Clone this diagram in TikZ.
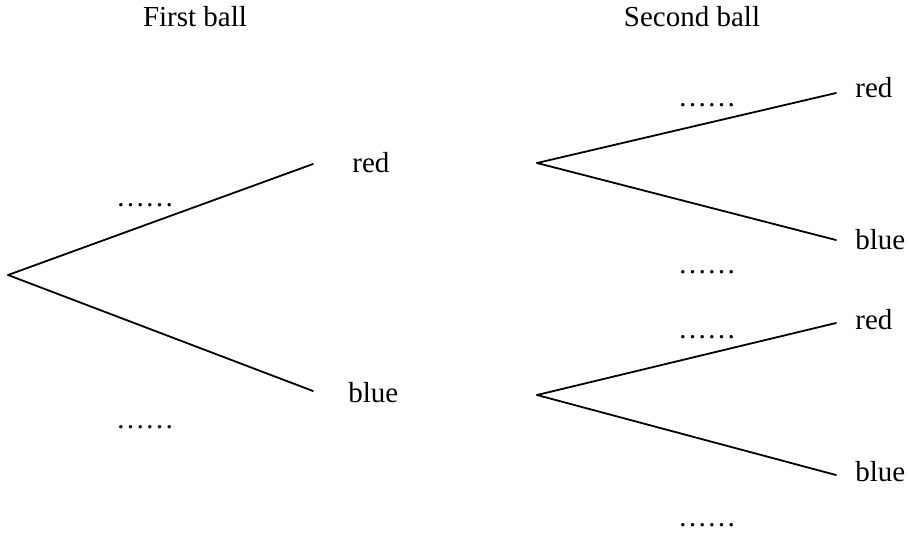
\documentclass[tikz,border=0pt]{standalone}
\usepackage{fontspec}
\setmainfont{Liberation Serif}
\usepackage{tikz}
\usetikzlibrary{positioning}

\begin{document}
\begin{tikzpicture}[
  x=0.5pt,y=-0.5pt,
  every node/.style={font=\fontsize{14.5}{17}\selectfont,inner sep=0pt},
  lbl/.style={anchor=west},
  prob/.style={anchor=base},
  br/.style={line width=0.9pt,line cap=round},
]
  \useasboundingbox (0,0) rectangle (909,532);
  % headers
  \node[prob] (h1) at (195,26) {First ball};
  \node[prob] (h2) at (692,26) {Second ball};
  % first ball
  \coordinate (root) at (8,275);
  \coordinate (r1) at (313,164);
  \coordinate (b1) at (313,391);
  \node[lbl] (red1) at (352,163) {red};
  \node[lbl] (blue1) at (348,393) {blue};
  \node[prob] (p1) at (145,206) {\ldots\ldots};
  \node[prob] (p2) at (145,428) {\ldots\ldots};
  \draw[br] (root)--(r1); \draw[br] (root)--(b1);
  % second ball
  \coordinate (s1) at (537,163);
  \coordinate (s2) at (537,395);
  \coordinate (rr) at (836,93);
  \coordinate (rb) at (836,240);
  \coordinate (br2) at (836,323);
  \coordinate (bb) at (836,475);
  \node[lbl] (red2) at (855,88) {red};
  \node[lbl] (blue2) at (855,240) {blue};
  \node[lbl] (red3) at (855,320) {red};
  \node[lbl] (blue3) at (855,472) {blue};
  \node[prob] (p3) at (707,106) {\ldots\ldots};
  \node[prob] (p4) at (707,273) {\ldots\ldots};
  \node[prob] (p5) at (707,338) {\ldots\ldots};
  \node[prob] (p6) at (707,526) {\ldots\ldots};
  \draw[br] (s1)--(rr); \draw[br] (s1)--(rb);
  \draw[br] (s2)--(br2); \draw[br] (s2)--(bb);
\end{tikzpicture}
\end{document}
